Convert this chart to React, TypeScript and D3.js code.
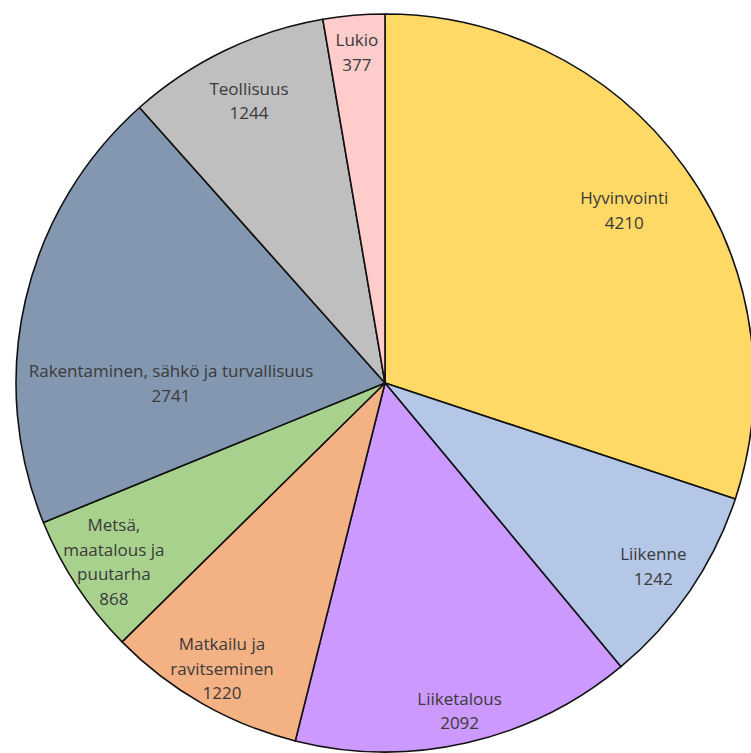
import React from "react";
import * as d3 from "d3";

const categories = [
  "Hyvinvointi",
  "Liikenne",
  "Liiketalous",
  "Matkailu ja ravitseminen",
  "Metsä, maatalous ja puutarha",
  "Rakentaminen, sähkö ja turvallisuus",
  "Teollisuus",
  "Lukio",
];
const values = [4210, 1242, 2092, 1220, 868, 2741, 1244, 377];
const labelLines = [
  ["Hyvinvointi"],
  ["Liikenne"],
  ["Liiketalous"],
  ["Matkailu ja", "ravitseminen"],
  ["Metsä,", "maatalous ja", "puutarha"],
  ["Rakentaminen, sähkö ja turvallisuus"],
  ["Teollisuus"],
  ["Lukio"],
];
const colors = ["#FFD966", "#B4C7E7", "#CC99FF", "#F4B183", "#A9D18E", "#8497B0", "#BFBFBF", "#FFCCCC"];
// label placement: fraction of radius, optional angle override (degrees from north)
const labelRadiusFrac = [0.8, 0.88, 0.91, 0.89, 0.88, 0.58, 0.85, 0.9];
const labelAngleOverride: (number | null)[] = [null, null, null, null, null, 270, null, null];

const W = 751;
const H = 753;
const cx = 385;
const cy = 383;
const R = 369;
const lineH = 24.5;

export default function App() {
  const pie = d3.pie<number>().sort(null).value((d) => d)(values);
  const arc = d3.arc<d3.PieArcDatum<number>>().innerRadius(0).outerRadius(R);
  return (
    <svg
      width={W}
      height={H}
      style={{ position: "absolute", left: 0, top: 0, background: "#fff" }}
      fontFamily="'Open Sans', Lato, sans-serif"
    >
      <g transform={`translate(${cx},${cy})`}>
        {pie.map((p, i) => (
          <path key={categories[i]} d={arc(p) || ""} fill={colors[i]} stroke="#111" strokeWidth={1.6} strokeLinejoin="round" />
        ))}
        {pie.map((p, i) => {
          const midDeg =
            labelAngleOverride[i] !== null ? (labelAngleOverride[i] as number) : ((p.startAngle + p.endAngle) / 2) * (180 / Math.PI);
          const a = (midDeg * Math.PI) / 180;
          const r = R * labelRadiusFrac[i];
          const x = Math.sin(a) * r;
          const y = -Math.cos(a) * r;
          const lines = [...labelLines[i], String(values[i])];
          const top = y - ((lines.length - 1) * lineH) / 2;
          return (
            <text key={"t" + i} textAnchor="middle" fill="#3a3a3a" fontSize={17}>
              {lines.map((l, j) => (
                <tspan key={j} x={x} y={top + j * lineH} dominantBaseline="central">
                  {l}
                </tspan>
              ))}
            </text>
          );
        })}
      </g>
    </svg>
  );
}
